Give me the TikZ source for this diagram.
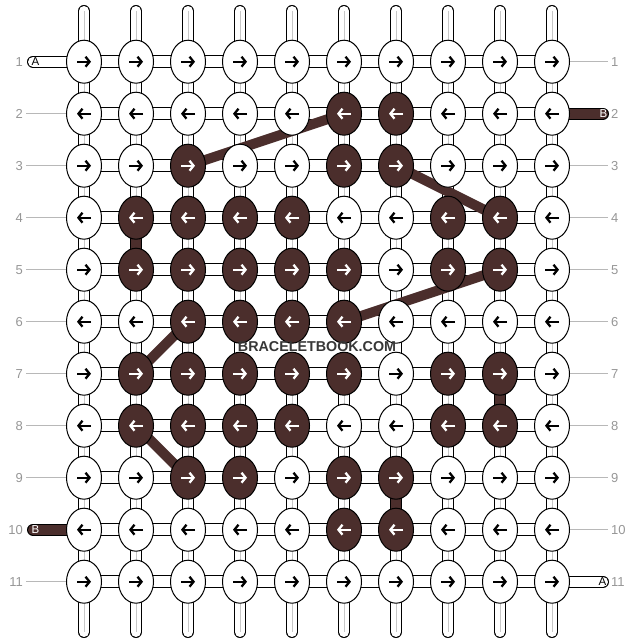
\documentclass[tikz,border=0pt]{standalone}
\usepackage{fontspec}
\setmainfont{Liberation Sans}
\usetikzlibrary{arrows.meta,shapes.geometric}
\definecolor{thread}{RGB}{75,46,44}
\definecolor{rowgray}{RGB}{150,150,150}
\definecolor{wmgray}{RGB}{55,55,55}
\tikzset{knot/.style={draw, ellipse, line width=1pt, minimum width=35pt,
		minimum height=43pt, inner sep=0pt},
	vstring/.style={draw=black, line width=1pt, double=white, double distance=10pt, line cap=round},
	core/.style={draw=black!22, line width=1pt},
	hstring/.style={draw=black, line width=1pt, double=white, double distance=11pt},
	bstring/.style={draw=black, line width=1pt, double=thread, double distance=10pt},
	band/.style={draw=thread, line width=10pt},
	tabw/.style={draw=black, line width=1pt, double=white, double distance=10pt, line cap=round},
	tabb/.style={draw=black, line width=1pt, double=thread, double distance=10pt, line cap=round},
	tip/.style={-{Straight Barb[length=4pt,width=10pt]}, line width=2.3pt},
	numlabel/.style={text=rowgray, font=\fontsize{13}{13}\selectfont, inner sep=0pt},
	tabtext/.style={font=\fontsize{11.5}{12}\selectfont, inner sep=0pt},
	guide/.style={draw=black!28, line width=1pt},
	wmark/.style={text=wmgray, font=\bfseries\fontsize{14.3}{15}\selectfont, inner sep=0pt}}

\begin{document}
\begin{tikzpicture}[x=1pt,y=-1pt]
		\useasboundingbox (0,0) rectangle (636,644);
		% grid of knot positions
		\foreach \r in {1,...,11}
		\foreach \c in {1,...,10}
		\coordinate (p-\r-\c) at ({84+52*(\c-1)},{61.7+52*(\r-1)});
		% dark knots
		\foreach \r/\cl in {2/{6,7},3/{3,6,7},4/{2,3,4,5,8,9},5/{2,3,4,5,6,8,9},
			6/{3,4,5,6},7/{2,3,4,5,6,8,9},8/{2,3,4,5,8,9},9/{3,4,6,7},10/{6,7}}
		\foreach \c in \cl
		{\expandafter\xdef\csname dark-\r-\c\endcsname{1}}
		
		% vertical threads
		\foreach \c in {1,...,10}
		{\coordinate (top-\c) at ({84+52*(\c-1)},11);
			\coordinate (bot-\c) at ({84+52*(\c-1)},632);
			\draw[vstring](top-\c)--(bot-\c);
			\draw[core](top-\c)--(bot-\c);}
		% horizontal threads
		\foreach \r in {1,...,11}
		\draw[hstring](p-\r-1)--(p-\r-10);
		
		% thread ends
		\coordinate (ta-1) at (33,61.7);
		\coordinate (tb-2) at (603,113.7);
		\coordinate (tb-10) at (33,529.7);
		\coordinate (ta-11) at (603,581.7);
		\draw[tabw](ta-1)--(p-1-1);
		\draw[tabb](p-2-10)--(tb-2);
		\draw[tabb](tb-10)--(p-10-1);
		\draw[tabw](p-11-10)--(ta-11);
		\node[tabtext] (la-1) at (35.5,61.7){A};
		\node[tabtext,text=white] (lb-2) at (603.5,113.7){B};
		\node[tabtext,text=white] (lb-10) at (35.5,529.7){B};
		\node[tabtext] (la-11) at (602.5,581.7){A};
		
		% dark thread between knots
		\foreach \a/\b in {4-2/5-2,7-9/8-9,9-7/10-7}
		\draw[bstring](p-\a)--(p-\b);
		\foreach \a/\b in {3-3/2-6,3-7/4-9,6-6/5-9,6-3/7-2,8-2/9-3}
		\draw[band](p-\a)--(p-\b);
		
		% clear space behind the watermark
		\coordinate (wm-sw) at (236,354.5);
		\coordinate (wm-ne) at (398,339.5);
		\fill[white](wm-sw) rectangle (wm-ne);
		
		% knots and arrows
		\foreach \r in {1,...,11}
		\foreach \c in {1,...,10}
		{\ifcsname dark-\r-\c\endcsname
			\def\kfill{thread}\def\kink{white}
			\else
			\def\kfill{white}\def\kink{black}
			\fi
			\node[knot,fill=\kfill](k-\r-\c) at (p-\r-\c){};
			\ifodd\r\relax
			\draw[tip,draw=\kink]([xshift=-7pt]k-\r-\c.center)--([xshift=7pt]k-\r-\c.center);
			\else
			\draw[tip,draw=\kink]([xshift=7pt]k-\r-\c.center)--([xshift=-7pt]k-\r-\c.center);
			\fi}
		
		% row numbers
		\foreach \r in {1,...,11}
		{\node[numlabel,anchor=east](nl-\r) at (23,{61.7+52*(\r-1)}){\r};
			\node[numlabel,anchor=west](nr-\r) at (611,{61.7+52*(\r-1)}){\r};}
		\foreach \r in {2,3,4,5,6,7,8,9,11}
		{\coordinate (gl-\r) at (26,{61.7+52*(\r-1)});
			\draw[guide](gl-\r)--(k-\r-1.west);}
		\foreach \r in {1,3,4,5,6,7,8,9,10}
		{\coordinate (gr-\r) at (608,{61.7+52*(\r-1)});
			\draw[guide](k-\r-10.east)--(gr-\r);}
		
		% watermark
		\node[wmark](wm) at (317,347){BRACELETBOOK.COM};
	\end{tikzpicture}
\end{document}
